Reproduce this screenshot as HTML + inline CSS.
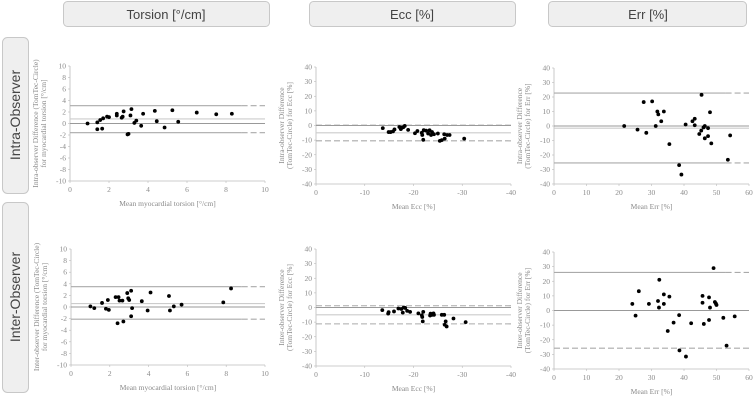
<!DOCTYPE html>
<html><head><meta charset="utf-8"><style>
html,body{margin:0;padding:0;background:#fff;}
svg{display:block;}
.hdr{fill:#efefef;stroke:#c8c8c8;stroke-width:1;}
.hdrt{font-family:"Liberation Sans",sans-serif;font-size:13px;fill:#444;}
.tick{font-family:"Liberation Serif",serif;font-size:7.5px;fill:#8a8a8a;}
.ttl{font-family:"Liberation Serif",serif;font-size:7.5px;fill:#8a8a8a;}
</style></head><body>
<svg id="fig" width="754" height="402" viewBox="0 0 754 402" xmlns="http://www.w3.org/2000/svg">
<g>
<rect class="hdr" x="63.5" y="1.5" width="206" height="25" rx="4"/>
<text class="hdrt" x="166" y="19" text-anchor="middle">Torsion [°/cm]</text>
<rect class="hdr" x="309.5" y="1.5" width="206" height="25" rx="4"/>
<text class="hdrt" x="412" y="19" text-anchor="middle">Ecc [%]</text>
<rect class="hdr" x="548.5" y="1.5" width="198" height="25" rx="4"/>
<text class="hdrt" x="648" y="19" text-anchor="middle">Err [%]</text>
</g>
<g>
<rect class="hdr" x="2.5" y="37.5" width="26" height="156" rx="5"/>
<text class="hdrt" transform="translate(20,115) rotate(-90)" text-anchor="middle" style="font-size:14px">Intra-Observer</text>
<rect class="hdr" x="2.5" y="202.5" width="26" height="190" rx="5"/>
<text class="hdrt" transform="translate(20,297) rotate(-90)" text-anchor="middle" style="font-size:14px">Inter-Observer</text>
</g>
</svg>
<script>
// ---- data ----
const p1X=[0.9,1.4,1.4,1.55,1.65,1.7,1.9,2.0,2.4,2.4,2.65,2.7,2.75,2.95,3.0,3.1,3.15,3.3,3.4,3.65,3.75,4.35,4.45,4.85,5.25,5.55,6.5,7.5,8.3];
const p1Y=[0,0.2,-1.0,0.6,-0.9,0.9,1.2,1.1,1.4,1.7,1.0,1.2,2.1,-1.9,-1.8,1.4,2.5,0.1,0.5,-0.4,1.7,2.2,0.4,-0.7,2.3,0.3,1.9,1.6,1.7];
const p1Lines=[3.1,0.8,0,-1.6];
const p2X=[-13.7,-14.9,-15.3,-15.8,-16.1,-17.1,-17.4,-17.6,-17.9,-18.2,-18.9,-20.3,-20.8,-21.7,-21.8,-22,-22.1,-22.6,-23,-23.3,-23.6,-23.8,-24.2,-25,-25.4,-25.8,-26.3,-26.4,-26.9,-27.4,-30.4];
const p2Y=[-1.8,-4.5,-4.5,-4,-2.7,-1,-2.5,-1.5,-1.2,-0.3,-3,-5.3,-3.8,-5,-6.5,-9.8,-3.2,-3.5,-5.5,-3.3,-6.5,-4.5,-6,-5.5,-10.5,-10,-6,-9,-6.5,-6.5,-9];
const p2Lines=[0.2,-5,0,-10.5];
const p3X=[21.6,25.7,27.6,28.4,30.2,31.3,31.8,32.1,33,33.8,35.5,38.5,39.2,40.5,42.6,43.3,43.3,44.7,45.4,45.3,46,46.4,46.4,47.4,47.4,48,48.4,53.5,54.2];
const p3Y=[0,-2.5,16.5,-4.7,17,0,10,8,3.3,10,-12.5,-27,-33.5,1,3.3,5,0.5,-5.5,21.5,-3.2,-1,0,-8.5,-1.5,-7,9.5,-12,-23.3,-6.5];
const p3Lines=[22.7,-1.5,0,-25.5];
const p4X=[1.0,1.2,1.6,1.8,1.9,1.95,2.3,2.4,2.45,2.5,2.65,2.7,2.9,2.95,3.0,3.1,3.1,3.15,3.65,3.95,4.1,5.05,5.1,5.3,5.7,7.85,8.25];
const p4Y=[0.1,-0.2,0.7,-0.3,1.2,-0.5,1.7,-2.8,1.7,1.1,1.1,-2.5,2.4,1.5,1.2,2.8,-1.6,-0.2,1.0,-0.6,2.5,1.9,-0.6,0.1,0.4,0.8,3.2];
const p4Lines=[3.5,0.6,0,-2.1];
const p5X=[-13.6,-14.8,-14.9,-16,-16.9,-17.5,-17.8,-18,-18.3,-18.7,-19.3,-21,-21.7,-21.8,-21.9,-22,-23.4,-23.5,-23.8,-24.1,-24.2,-25.8,-26.3,-26.4,-26.6,-26.8,-28.2,-30.7];
const p5Y=[-1.8,-4.2,-3.2,-2.7,-0.7,-1,-3.5,0,-0.3,-2.3,-3,-4,-5.3,-6.5,-9.5,-3,-5.5,-4.2,-5,-4,-5,-5,-5,-11.8,-9.5,-13,-7.5,-10];
const p5Lines=[1.2,-5,0,-11.2];
const p6X=[24.1,25.1,26.1,29.2,32,32.3,32.4,33.8,33.8,35.5,35,36.8,38.5,38.6,40.6,42.2,45.7,45.7,46.1,47.7,47.7,48,49.1,49.5,49.8,50,52.1,53.1,55.6];
const p6Y=[4.5,-3.5,13.2,4.5,6.5,2,21,11,4.5,9.5,-14,-8.3,-3.2,-27.3,-31.5,-8.7,10,5.3,-9.2,9,-6.5,2,29,5.8,4.8,3.8,-5,-24,-4];
const p6Lines=[26,0,0,-25.8];
const torsionTicksX=[0,2,4,6,8,10];
const torsionTicksY=[10,8,6,4,2,0,-2,-4,-6,-8,-10];
const eccTicksX=[0,-10,-20,-30,-40];
const errTicksX=[0,10,20,30,40,50,60];
const pctTicksY=[40,30,20,10,0,-10,-20,-30,-40];

const NS='http://www.w3.org/2000/svg';
const svg=document.getElementById('fig');
function mk(tag,attrs,parent){const e=document.createElementNS(NS,tag);for(const k in attrs)e.setAttribute(k,attrs[k]);(parent||svg).appendChild(e);return e;}

function panel(cfg){
  const g=mk('g',{});
  
  
  const xs=v=>cfg.x0+(v-cfg.xmin)/(cfg.xmax-cfg.xmin)*(cfg.x1-cfg.x0);
  const ys=v=>cfg.y0+(cfg.ymax-v)/(cfg.ymax-cfg.ymin)*(cfg.y1-cfg.y0);
  const ya=mk('line',{x1:cfg.x0,y1:cfg.y0,x2:cfg.x0,y2:cfg.y1,stroke:'#bbb','stroke-width':0.8},g);
  
  const xa=mk('line',{x1:cfg.x0,y1:cfg.y1,x2:cfg.x1,y2:cfg.y1,stroke:'#bbb','stroke-width':0.8},g);
  
  cfg.yt.forEach(v=>{
    mk('line',{x1:cfg.x0-2,x2:cfg.x0,y1:ys(v),y2:ys(v),stroke:'#bbb','stroke-width':0.6},g);
    const t=mk('text',{class:'tick',x:cfg.x0-4,y:ys(v)+2.5,'text-anchor':'end'},g);t.textContent=v;
    
  });
  cfg.xt.forEach(v=>{
    mk('line',{x1:xs(v),x2:xs(v),y1:cfg.y1,y2:cfg.y1+2,stroke:'#bbb','stroke-width':0.6},g);
    const t=mk('text',{class:'tick',x:xs(v),y:cfg.y1+11,'text-anchor':'middle'},g);t.textContent=v;
    
  });
  const xt=mk('text',{class:'ttl',x:(cfg.x0+cfg.x1)/2,y:cfg.y1+25,'text-anchor':'middle'},g);xt.textContent=cfg.xtitle;
  
  const yc=(cfg.y0+cfg.y1)/2;
  cfg.ytitle.forEach((s,i)=>{
    const t=mk('text',{class:'ttl',transform:`translate(${cfg.x0-32+i*8},${yc}) rotate(-90)`,'text-anchor':'middle'},g);t.textContent=s;
    
  });
  const L=cfg.lines;const split=cfg.x0+(cfg.x1-cfg.x0)*0.88;
  const styles=[
    {c:'#aaa',w:1.1,n:'upper-limit-line',dashAll:cfg.dashUpper},
    {c:'#ccc',w:1.1,n:'mean-difference-line'},
    {c:'#999',w:1.1,n:'zero-line'},
    {c:'#aaa',w:1.1,n:'lower-limit-line',dashAll:cfg.dashLower}];
  styles.forEach((s,i)=>{
    const y=ys(L[i]);
    if(s.dashAll){
      const l=mk('line',{x1:cfg.x0,x2:cfg.x1,y1:y,y2:y,stroke:s.c,'stroke-width':s.w,'stroke-dasharray':'6 3'},g);
      
    } else if(i===0||i===3){
      const l=mk('line',{x1:cfg.x0,x2:split,y1:y,y2:y,stroke:s.c,'stroke-width':s.w},g);
      
      const d=mk('line',{x1:split,x2:cfg.x1,y1:y,y2:y,stroke:s.c,'stroke-width':s.w,'stroke-dasharray':'6 3'},g);
      
    } else {
      const l=mk('line',{x1:cfg.x0,x2:cfg.x1,y1:y,y2:y,stroke:s.c,'stroke-width':s.w},g);
      
    }
  });
  cfg.px.forEach((xv,i)=>{
    const c=mk('circle',{cx:xs(xv),cy:ys(cfg.py[i]),r:1.9,fill:'#000'},g);
    
  });
}
panel({name:'intra-torsion-plot',x0:70,x1:265,y0:66,y1:181,xmin:0,xmax:10,ymin:-10,ymax:10,xt:torsionTicksX,yt:torsionTicksY,px:p1X,py:p1Y,lines:p1Lines,xtitle:'Mean myocardial torsion [°/cm]',ytitle:['Intra-observer Difference (TomTec-Circle)','for myocardial torsion [°/cm]']});
panel({name:'intra-ecc-plot',x0:316,x1:511,y0:67,y1:184,xmin:0,xmax:-40,ymin:-40,ymax:40,xt:eccTicksX,yt:pctTicksY,px:p2X,py:p2Y,lines:p2Lines,dashUpper:true,dashLower:true,xtitle:'Mean Ecc [%]',ytitle:['Intra-observer Difference','(TomTec-Circle)  for Ecc [%]']});
panel({name:'intra-err-plot',x0:554,x1:749,y0:68,y1:184,xmin:0,xmax:60,ymin:-40,ymax:40,xt:errTicksX,yt:pctTicksY,px:p3X,py:p3Y,lines:p3Lines,xtitle:'Mean Err [%]',ytitle:['Intra-observer Difference','(TomTec-Circle)  for Err [%]']});
panel({name:'inter-torsion-plot',x0:71,x1:265,y0:249,y1:365,xmin:0,xmax:10,ymin:-10,ymax:10,xt:torsionTicksX,yt:torsionTicksY,px:p4X,py:p4Y,lines:p4Lines,xtitle:'Mean myocardial torsion [°/cm]',ytitle:['Inter-observer Difference (TomTec-Circle)','for myocardial torsion [°/cm]']});
panel({name:'inter-ecc-plot',x0:316,x1:511,y0:249,y1:366,xmin:0,xmax:-40,ymin:-40,ymax:40,xt:eccTicksX,yt:pctTicksY,px:p5X,py:p5Y,lines:p5Lines,dashUpper:true,dashLower:true,xtitle:'Mean Ecc [%]',ytitle:['Inter-observer Difference','(TomTec-Circle)  for Ecc [%]']});
panel({name:'inter-err-plot',x0:554,x1:749,y0:252,y1:369,xmin:0,xmax:60,ymin:-40,ymax:40,xt:errTicksX,yt:pctTicksY,px:p6X,py:p6Y,lines:p6Lines,dashLower:true,xtitle:'Mean Err [%]',ytitle:['Inter-observer Difference','(TomTec-Circle)  for Err [%]']});
</script>
</body></html>
